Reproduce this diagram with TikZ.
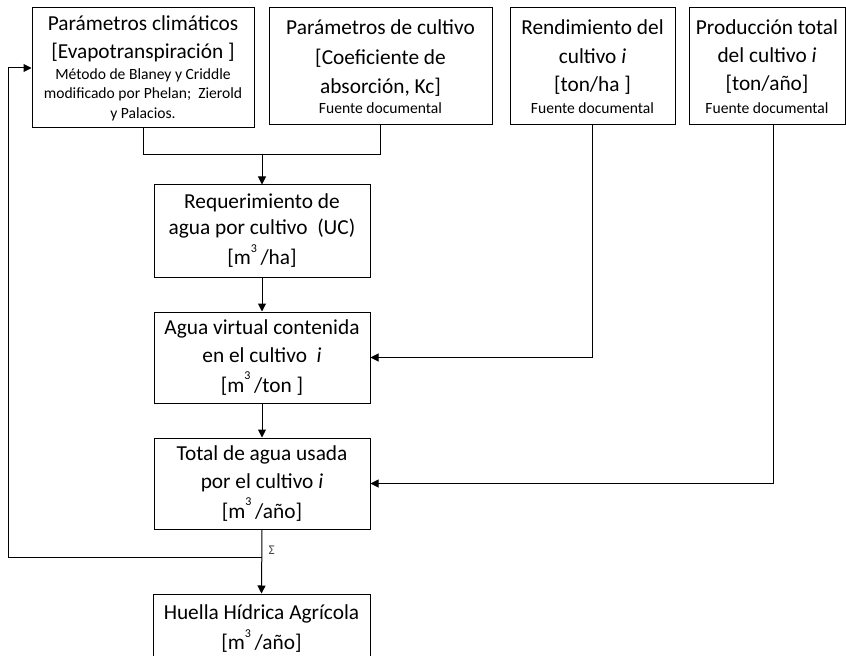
\documentclass[tikz,border=0pt]{standalone}
\usepackage{fontspec}
\setmainfont{Carlito}
\usetikzlibrary{arrows.meta}

\newcommand{\letracaja}{\fontsize{16}{20.5}\selectfont\lineskiplimit=-50pt\relax}
\newcommand{\cubo}{\raisebox{1.2ex}{\fontsize{9}{9}\selectfont 3}\,}
\newcommand{\chico}[1]{{\fontsize{11.7}{14}\selectfont #1}}

\begin{document}
\begin{tikzpicture}[x=0.75pt, y=-0.75pt,
	caja/.style={draw, line width=0.75pt, rectangle, align=center, inner sep=2pt, font=\letracaja},
	flecha/.style={-{Triangle[length=6pt, width=6pt]}, line width=0.75pt},
	linea/.style={line width=0.75pt}]
		    \useasboundingbox (0,0) rectangle (846,656);
		    \clip (0,0) rectangle (846,656);
		    \begin{scope}
					% fila de arriba
					\node[caja, minimum width=222*0.75pt, minimum height=120*0.75pt] (clima) at (143,68) {Parámetros climáticos\\[1pt] {[}Evapotranspiración {]}\\[-5pt] \chico{Método de Blaney y Criddle}\\[-6pt] \chico{modificado por Phelan;\ \ Zierold}\\[-6pt] \chico{y Palacios.}};
					\node[caja, minimum width=223*0.75pt, minimum height=117*0.75pt] (cultivo) at (380.5,66.5) {Parámetros de cultivo\\[2.5pt] {[}Coeficiente de\\[1pt] absorción, Kc{]}\\[-5.5pt] \chico{Fuente documental}};
					\node[caja, minimum width=165*0.75pt, minimum height=117*0.75pt] (rend) at (592.5,66.5) {Rendimiento del\\[1pt] cultivo \textit{i}\\[0.5pt] {[}ton/ha {]}\\[-4pt] \chico{Fuente documental}};
					\node[caja, minimum width=156*0.75pt, minimum height=117*0.75pt] (prod) at (767,66.5) {Producción total\\[1pt] del cultivo \textit{i}\\[0.5pt] {[}ton/año{]}\\[-3.5pt] \chico{Fuente documental}};

					% columna central
					\node[caja, minimum width=216*0.75pt, minimum height=92*0.75pt] (req) at (262,231) {Requerimiento de\\[-1pt] agua por cultivo\ \ (UC)\\[2pt] {[}m\cubo/ha{]}};
					\node[caja, minimum width=216*0.75pt, minimum height=91*0.75pt] (virtual) at (262,357.5) {Agua virtual contenida\\ en el cultivo\ \ \textit{i}\\[2pt] {[}m\cubo/ton {]}};
					\node[caja, minimum width=216*0.75pt, minimum height=91*0.75pt] (total) at (262,483.5) {Total de agua usada\\ por el cultivo \textit{i}\\[2pt] {[}m\cubo/año{]}};
					\node[caja, minimum width=217*0.75pt, minimum height=70*0.75pt] (huella) at (261.5,629) {Huella Hídrica Agrícola\\[2pt] {[}m\cubo/año{]}};

					\coordinate (union) at (262,155);
					\coordinate (suma) at (262,557);
					\coordinate (vuelta) at (8,557);

					\draw[linea] (clima.south) |- (cultivo.south |- union) -- (cultivo.south); % une 1 y 2
					\draw[flecha] (union) -- (req.north);
					\draw[flecha] (req.south) -- (virtual.north);
					\draw[flecha] (virtual.south) -- (total.north);
					\draw[flecha] (rend.south) |- (virtual.east); % rendimiento
					\draw[flecha] ([xshift=4.5pt]prod.south) |- (total.east); % produccion
					\draw[flecha] (total.south) -- (huella.north);
					\draw[flecha] (suma) -- (vuelta) |- (clima.west); % retorno
					\node[right, font=\fontsize{10}{10}\selectfont, text=black!75] (sigma) at (264,550) {Σ};
		    \end{scope}
		  \end{tikzpicture}
\end{document}
